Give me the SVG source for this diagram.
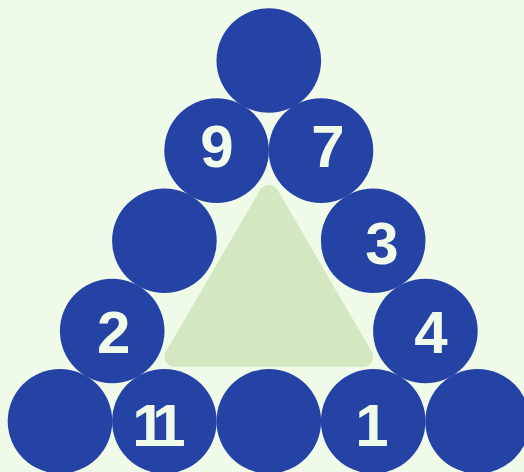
<svg xmlns="http://www.w3.org/2000/svg" width="524" height="472" viewBox="0 0 524 472">
<style>
.c{fill:#2443a4}
.t{fill:#f0fae9;font-family:"Liberation Sans",Arial,sans-serif;font-weight:bold;font-size:60px;text-anchor:middle}
</style>
<rect width="524" height="472" fill="#f0fae9"/>
<g id="triangle">
<path d="M260.16,189.82 A10,10 0 0 1 277.44,189.82 L371.83,351.66 A10,10 0 0 1 363.19,366.7 L174.41,366.7 A10,10 0 0 1 165.77,351.66 Z" fill="#d3e8c1"/>
</g>
<g id="connectors"></g>
<g id="n1"><circle class="c" cx="268.8" cy="60.5" r="52.3"/></g>
<g id="n2"><circle class="c" cx="216.6" cy="150.6" r="52.3"/><text class="t" x="217" y="166.7">9</text></g>
<g id="n3"><circle class="c" cx="321" cy="150.6" r="52.3"/><text class="t" x="328" y="166.7">7</text></g>
<g id="n4"><circle class="c" cx="164.4" cy="240.7" r="52.3"/></g>
<g id="n5"><circle class="c" cx="373.2" cy="240.7" r="52.3"/><text class="t" x="382" y="264.3">3</text></g>
<g id="n6"><circle class="c" cx="112.2" cy="331" r="52.3"/><text class="t" x="113.7" y="353.3">2</text></g>
<g id="n7"><circle class="c" cx="425.4" cy="331" r="52.3"/><text class="t" x="431" y="353.3">4</text></g>
<g id="n8"><circle class="c" cx="60" cy="421.3" r="52.3"/></g>
<g id="n9"><circle class="c" cx="164.4" cy="421.3" r="52.3"/><text class="t" x="154" y="446" letter-spacing="-10">11</text></g>
<g id="n10"><circle class="c" cx="268.8" cy="421.3" r="52.3"/></g>
<g id="n11"><circle class="c" cx="373.2" cy="421.3" r="52.3"/><text class="t" x="372" y="446">1</text></g>
<g id="n12"><circle class="c" cx="477.6" cy="421.3" r="52.3"/></g>
</svg>
